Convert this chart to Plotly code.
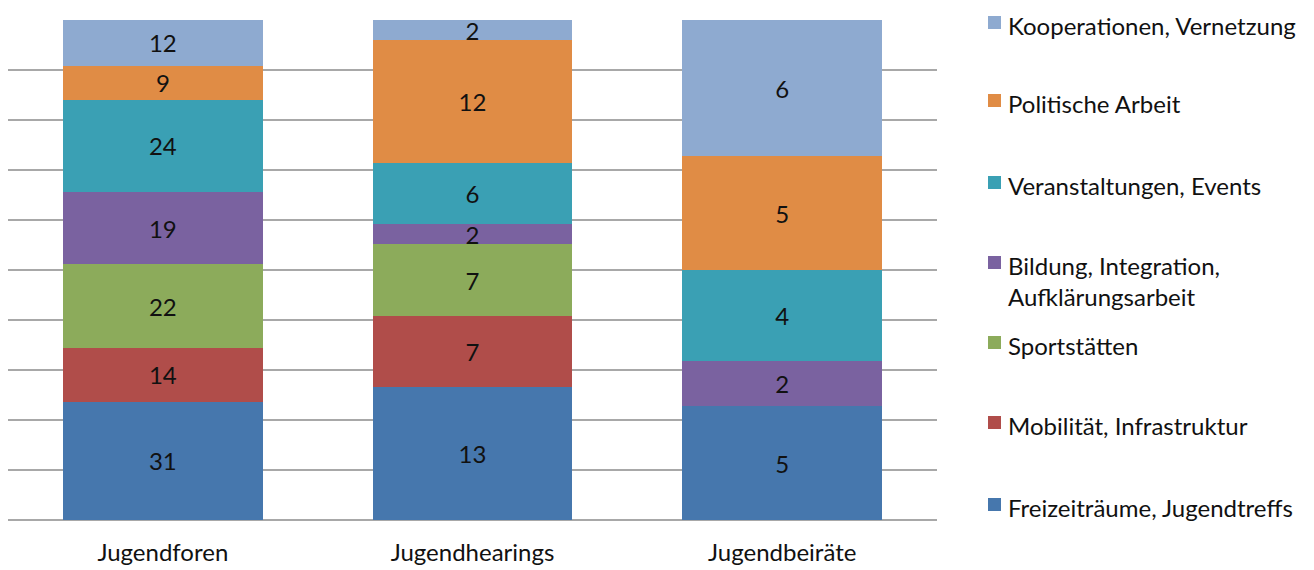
import plotly.graph_objects as go

# Categories (x axis) and counts per topic, stacked bottom to top
categories = ["Jugendforen", "Jugendhearings", "Jugendbeiräte"]

series_names = [
    "Freizeiträume, Jugendtreffs",
    "Mobilität, Infrastruktur",
    "Sportstätten",
    "Bildung, Integration,<br>Aufklärungsarbeit",
    "Veranstaltungen, Events",
    "Politische Arbeit",
    "Kooperationen, Vernetzung",
]
freizeit = [31, 13, 5]
mobilitaet = [14, 7, None]
sport = [22, 7, None]
bildung = [19, 2, 2]
veranstaltungen = [24, 6, 4]
politik = [9, 12, 5]
kooperation = [12, 2, 6]

series_values = [freizeit, mobilitaet, sport, bildung, veranstaltungen, politik, kooperation]
colors = ["#4677ad", "#b04d4a", "#8cab5b", "#7a62a0", "#3aa0b4", "#e08c45", "#8eaad0"]

FONT = "Lato"
FSIZE = 24
fig = go.Figure()
for name, vals, col in zip(series_names, series_values, colors):
    fig.add_trace(go.Bar(
        x=categories,
        y=vals,
        name=name,
        marker=dict(color=col, line=dict(width=0)),
        text=["" if v is None else str(v) for v in vals],
        texttemplate="%{text}",
        textposition="inside",
        insidetextanchor="middle",
        textangle=0,
        textfont=dict(family=FONT, size=FSIZE, color="#111111"),
        showlegend=False,
    ))

fig.update_layout(
    width=1314,
    height=570,
    barmode="stack",
    barnorm="percent",
    bargap=0.355,
    plot_bgcolor="white",
    paper_bgcolor="white",
    margin=dict(l=8, r=377, t=20, b=50, autoexpand=False),
    uniformtext=dict(minsize=FSIZE, mode="show"),
    font=dict(family=FONT, size=FSIZE, color="#111111"),
)
fig.update_yaxes(
    range=[0, 100],
    dtick=10,
    showgrid=True,
    gridcolor="#a8a8a8",
    gridwidth=2,
    zeroline=True,
    zerolinecolor="#a8a8a8",
    zerolinewidth=2,
    showticklabels=False,
    showline=False,
    automargin=False,
)
fig.update_xaxes(
    showgrid=False,
    showline=False,
    ticks="outside",
    ticklen=11,
    tickcolor="rgba(0,0,0,0)",
    tickfont=dict(family=FONT, size=FSIZE, color="#111111"),
    automargin=False,
)

# Legend drawn as colored squares with labels to the right of the plot
plot_left, plot_width = 8, 929
plot_bottom, plot_height = 520, 500


def px_x(px):
    return (px - plot_left) / plot_width


def px_y(py):
    return (plot_bottom - py) / plot_height


legend_rows = [507, 425, 345, 265, 185, 103, 25]  # first-line centers, bottom entry first
for name, col, row in zip(series_names, colors, legend_rows):
    fig.add_shape(
        type="rect", xref="paper", yref="paper",
        x0=px_x(988), x1=px_x(1001), y0=px_y(row + 4), y1=px_y(row - 9),
        fillcolor=col, line=dict(width=0),
    )
    fig.add_annotation(
        xref="paper", yref="paper",
        x=px_x(1006), y=px_y(row - 16),
        xanchor="left", yanchor="top", align="left",
        text=name, showarrow=False,
        font=dict(family=FONT, size=FSIZE, color="#111111"),
    )

fig.write_html("out.html")
